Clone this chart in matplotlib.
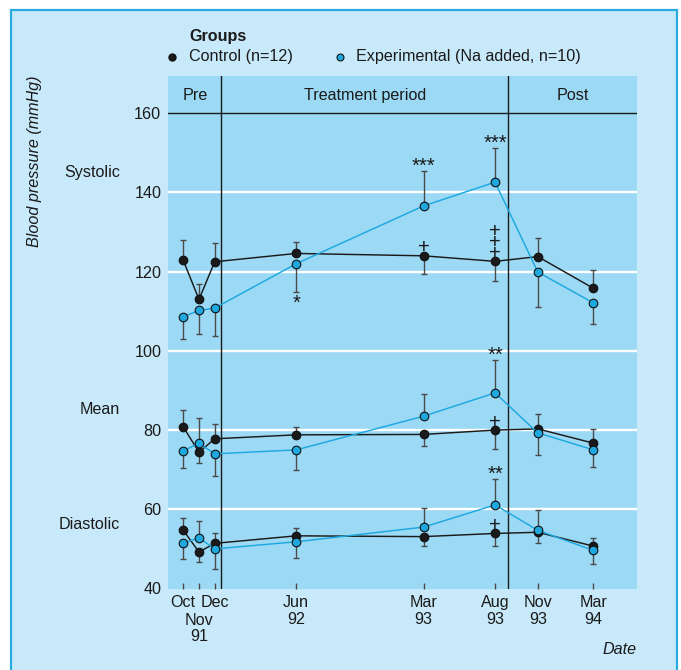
import matplotlib
matplotlib.use('Agg')
import matplotlib.pyplot as plt
import matplotlib.transforms as mtransforms
from matplotlib.patches import Rectangle
from matplotlib.lines import Line2D

plt.rcParams['font.family'] = ['Liberation Sans', 'DejaVu Sans']

# visit times, in months since Oct 1991
months = [0, 1.13, 2.24, 8, 17, 22.05, 25.07, 29]
tick_labels = ['Oct', '', 'Dec', 'Jun\n92', 'Mar\n93', 'Aug\n93', 'Nov\n93', 'Mar\n94']
nov_label = 'Nov\n91'
period_bounds = [2.7, 23.0]
period_names = ['Pre', 'Treatment period', 'Post']

# systolic
sys_ctrl = [123.0, 113.0, 122.5, 124.6, 124.0, 122.6, 123.8, 115.8]
sys_ctrl_se = [5.1, 3.8, 4.8, 3.0, 4.7, 5.0, 4.8, 4.7]
sys_ctrl_dir = [1, 1, 1, 1, -1, -1, 1, 1]
sys_exp = [108.6, 110.2, 110.8, 122.0, 136.6, 142.6, 119.9, 112.1]
sys_exp_se = [5.7, 5.9, 7.0, 7.2, 8.8, 8.6, 8.9, 5.3]
sys_exp_dir = [-1, -1, -1, -1, 1, 1, -1, -1]
sys_ast = ['', '', '', '*', '***', '***', '', '']
sys_plus = [0, 0, 0, 0, 1, 3, 0, 0]

# mean
mean_ctrl = [80.9, 74.4, 77.8, 78.8, 78.9, 80.0, 80.3, 76.7]
mean_ctrl_se = [4.2, 2.8, 3.8, 2.1, 3.0, 4.8, 3.8, 3.5]
mean_ctrl_dir = [1, -1, 1, 1, -1, -1, 1, 1]
mean_exp = [74.7, 76.7, 74.0, 75.0, 83.5, 89.4, 79.3, 75.0]
mean_exp_se = [4.2, 6.4, 5.5, 5.2, 5.7, 8.3, 5.7, 4.4]
mean_exp_dir = [-1, 1, -1, -1, 1, 1, -1, -1]
mean_ast = ['', '', '', '', '', '**', '', '']
mean_plus = [0, 0, 0, 0, 0, 1, 0, 0]

# diastolic
dia_ctrl = [54.8, 49.2, 51.4, 53.3, 53.1, 53.9, 54.2, 50.7]
dia_ctrl_se = [2.9, 2.5, 2.5, 2.1, 2.4, 3.2, 2.7, 2.1]
dia_ctrl_dir = [1, -1, 1, 1, -1, -1, -1, 1]
dia_exp = [51.4, 52.8, 50.0, 51.8, 55.5, 61.1, 54.7, 49.6]
dia_exp_se = [4.0, 4.3, 5.1, 4.2, 4.7, 6.6, 5.2, 3.3]
dia_exp_dir = [-1, 1, -1, -1, 1, 1, 1, -1]
dia_ast = ['', '', '', '', '', '**', '', '']
dia_plus = [0, 0, 0, 0, 0, 1, 0, 0]

row_names = ['Systolic', 'Mean', 'Diastolic']
row_label_y = [145.0, 85.1, 56.1]

CTRL = '#1a1a1a'
EXP = '#1ea8e0'
ERR = '#4a4a4a'
FS = 11.6

fig = plt.figure(figsize=(6.81, 6.70), dpi=100)
fig.patch.set_facecolor('white')
fig.patches.append(Rectangle((11/681, -0.01), 666/681, 0.995, transform=fig.transFigure,
                             facecolor='#c8e9fa', edgecolor='#29abe2', lw=1.6, zorder=-5))

ax = fig.add_axes([168.3/681, 1 - 588.5/670, 468.4/681, 512.5/670])
ax.set_facecolor('#9bd9f5')
for s in ax.spines.values():
    s.set_visible(False)
ax.set_xlim(-1.04, 32.06)
ax.set_ylim(40, 169.4)

for y in [60, 80, 100, 120, 140]:
    ax.axhline(y, color='white', lw=1.7, zorder=1)
ax.axhline(160, color=CTRL, lw=1.0, zorder=2)
for b in period_bounds:
    ax.axvline(b, color=CTRL, lw=1.0, zorder=2)

edges = [ax.get_xlim()[0]] + period_bounds + [ax.get_xlim()[1]]
for i, name in enumerate(period_names):
    ax.text((edges[i] + edges[i+1]) / 2, 164.6, name, ha='center', va='center', fontsize=FS, color=CTRL)

ax.set_yticks([40, 60, 80, 100, 120, 140, 160])
ax.tick_params(axis='y', length=0, pad=5, labelsize=FS, labelcolor=CTRL)
ax.set_xticks(months)
ax.set_xticklabels(tick_labels)
ax.tick_params(axis='x', direction='in', length=4.5, width=1, color=ERR, pad=5,
               labelsize=FS, labelcolor=CTRL)
for lbl in ax.get_xticklabels():
    lbl.set_linespacing(1.1)
# Nov 91 label sits one line lower than its neighbours
ax.annotate(nov_label, (months[1], 40), xytext=(0, -17.5), textcoords='offset points',
            ha='center', va='top', fontsize=FS, color=CTRL, linespacing=1.1,
            annotation_clip=False)


def draw(vals, se, dirs, color):
    ends = [v + d * e for v, e, d in zip(vals, se, dirs)]
    ax.vlines(months, vals, ends, color=ERR, lw=1.0, zorder=3)
    ax.plot(months, ends, ls='none', marker='_', ms=5, mew=1.0, color=ERR, zorder=3)
    ax.plot(months, vals, '-o', color=color, lw=1.05, ms=6.2, mfc=color, mec='#111',
            mew=0.8, zorder=4)


def marks(vals, se, dirs, ast, plus):
    for x, v, e, d, a, p in zip(months, vals, se, dirs, ast, plus):
        if a:
            end = v + d * e
            off = -0.8 if d > 0 else -12
            ax.annotate(a, (x, end), xytext=(0, off), textcoords='offset points',
                        ha='center', va='baseline', fontsize=14.5, color=CTRL)
        if p:
            ax.annotate('\n'.join(['+'] * p), (x, v), xytext=(0, -1.2), textcoords='offset points',
                        ha='center', va='bottom', fontsize=14.5, color=CTRL, linespacing=0.47)


draw(sys_ctrl, sys_ctrl_se, sys_ctrl_dir, CTRL)
draw(sys_exp, sys_exp_se, sys_exp_dir, EXP)
draw(mean_ctrl, mean_ctrl_se, mean_ctrl_dir, CTRL)
draw(mean_exp, mean_exp_se, mean_exp_dir, EXP)
draw(dia_ctrl, dia_ctrl_se, dia_ctrl_dir, CTRL)
draw(dia_exp, dia_exp_se, dia_exp_dir, EXP)

marks(sys_exp, sys_exp_se, sys_exp_dir, sys_ast, [0] * 8)
marks(sys_ctrl, sys_ctrl_se, sys_ctrl_dir, [''] * 8, sys_plus)
marks(mean_exp, mean_exp_se, mean_exp_dir, mean_ast, [0] * 8)
marks(mean_ctrl, mean_ctrl_se, mean_ctrl_dir, [''] * 8, mean_plus)
marks(dia_exp, dia_exp_se, dia_exp_dir, dia_ast, [0] * 8)
marks(dia_ctrl, dia_ctrl_se, dia_ctrl_dir, [''] * 8, dia_plus)

trans = mtransforms.blended_transform_factory(fig.transFigure, ax.transData)
for name, y in zip(row_names, row_label_y):
    ax.text(120/681, y, name, transform=trans, ha='right', va='center', fontsize=FS, color=CTRL)

fig.text(35/681, 1 - 161.5/670, 'Blood pressure (mmHg)', rotation=90, ha='center', va='center',
         style='italic', fontsize=FS, color=CTRL)
fig.text(636.7/681, 1 - 650/670, 'Date', ha='right', va='center', style='italic', fontsize=FS, color=CTRL)

# legend
fig.text(189/681, 1 - 36/670, 'Groups', ha='left', va='center', weight='bold', fontsize=FS, color=CTRL)
fig.add_artist(Line2D([172/681], [1 - 57/670], marker='o', ms=5, color=CTRL, mec='#111',
                      transform=fig.transFigure))
fig.add_artist(Line2D([340/681], [1 - 57/670], marker='o', ms=5, color=EXP, mec='#111',
                      mew=0.8, transform=fig.transFigure))
fig.text(189/681, 1 - 57/670, 'Control (n=12)', ha='left', va='center', fontsize=FS, color=CTRL)
fig.text(356/681, 1 - 57/670, 'Experimental (Na added, n=10)', ha='left', va='center',
         fontsize=FS, color=CTRL)

fig.savefig('out.png', dpi=100, facecolor=fig.get_facecolor())
